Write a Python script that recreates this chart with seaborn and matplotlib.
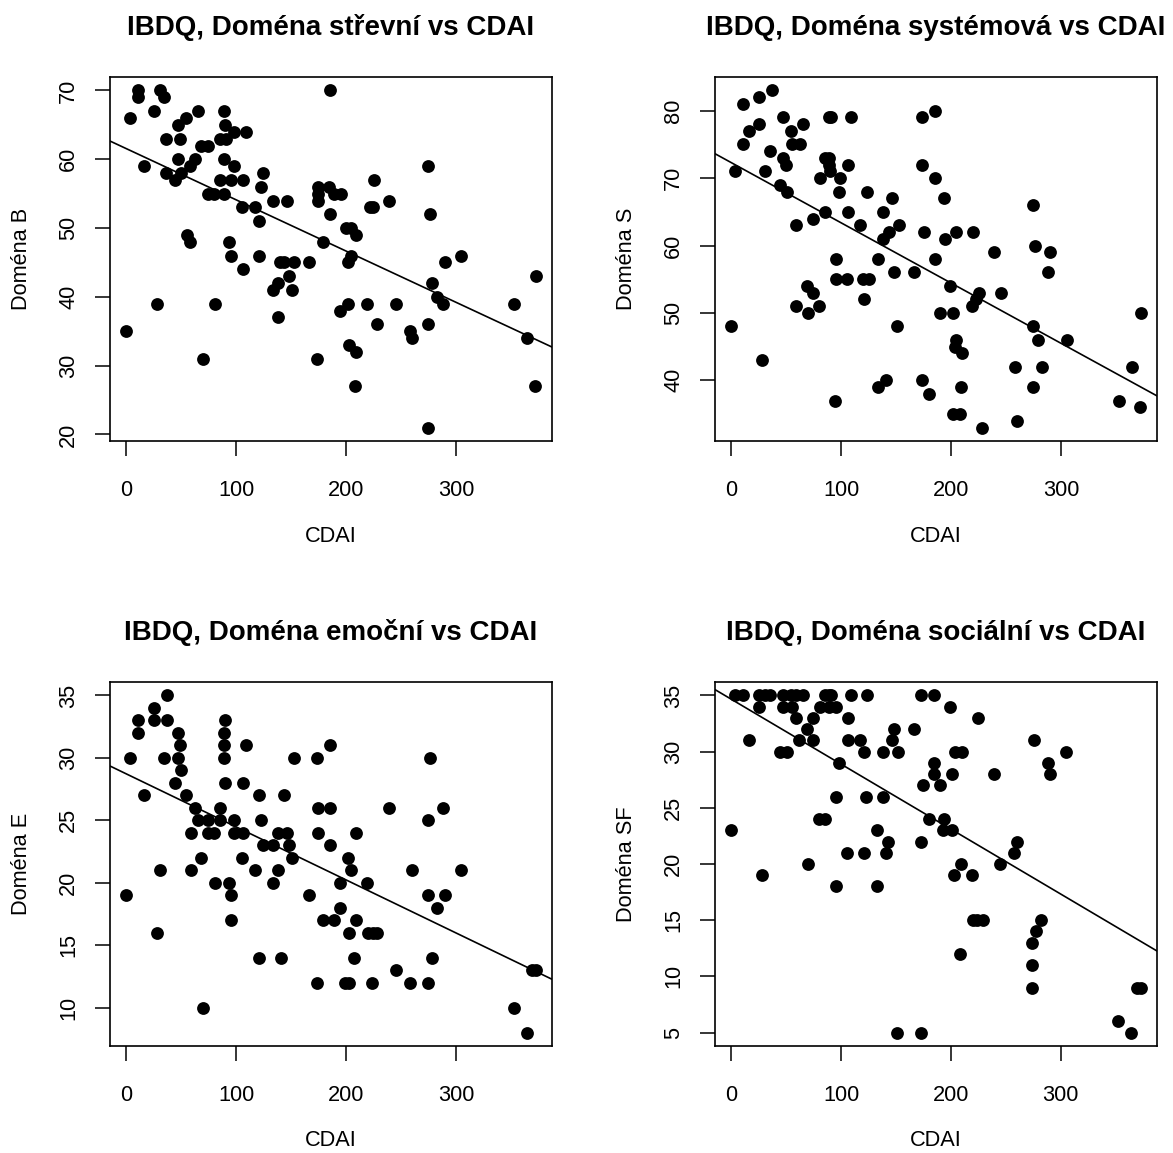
import matplotlib
matplotlib.use("Agg")
import matplotlib.pyplot as plt
import seaborn as sns
import numpy as np

# ---------------- data ----------------
titles = ["IBDQ, Doména střevní vs CDAI", "IBDQ, Doména systémová vs CDAI",
          "IBDQ, Doména emoční vs CDAI", "IBDQ, Doména sociální vs CDAI"]
ylabels = ["Doména B", "Doména S", "Doména E", "Doména SF"]
xlabel = "CDAI"
xticks = [0, 100, 200, 300]
yticks_b = [20, 30, 40, 50, 60, 70]
yticks_s = [40, 50, 60, 70, 80]
yticks_e = [10, 15, 20, 25, 30, 35]
yticks_sf = [5, 10, 15, 20, 25, 30, 35]

# Panel 1 - Doména B
cdai_b = [11, 11, 31, 34, 3, 25, 65, 89, 47, 54, 90, 98, 109, 36, 49, 68, 74, 85, 91,
          16, 47, 62, 58, 89, 98, 36, 44, 50, 85, 95, 106, 124, 122, 74, 80, 89, 105,
          117, 121, 133, 146, 174, 174, 174, 179, 55, 58, 93, 95, 106, 121, 140, 143,
          152, 166, 148, 138, 133, 151, 138, 28, 81, 0, 70, 173,
          185, 274, 225, 184, 189, 195, 221, 224, 239, 185, 276, 200, 204, 209, 204,
          201, 290, 304, 372, 278, 282, 288, 194, 201, 219, 245, 352, 228, 258, 260,
          274, 364, 202, 209, 208, 371, 274]
dom_b = [70, 69, 70, 69, 66, 67, 67, 67, 65, 66, 65, 64, 64, 63, 63, 62, 62, 63, 63,
         59, 60, 60, 59, 60, 59, 58, 57, 58, 57, 57, 57, 58, 56, 55, 55, 55, 53,
         53, 51, 54, 54, 56, 55, 54, 48, 49, 48, 48, 46, 44, 46, 45, 45,
         45, 45, 43, 42, 41, 41, 37, 39, 39, 35, 31, 31,
         70, 59, 57, 56, 55, 55, 53, 53, 54, 52, 52, 50, 50, 49, 46,
         45, 45, 46, 43, 42, 40, 39, 38, 39, 39, 39, 39, 36, 35, 34,
         36, 34, 33, 32, 27, 27, 21]

# Panel 2 - Doména S
cdai_s = [37, 11, 25, 47, 89, 91, 109, 173, 185, 16, 25, 54, 65, 11, 55, 62, 35, 47, 50,
          85, 89, 89, 90, 106, 173, 3, 31, 81, 99, 185, 44, 51, 98, 123, 146, 138, 85,
          74, 106, 117, 59, 143, 152, 138, 175, 95, 133, 148, 166, 95, 105, 120, 125,
          69, 74, 80, 59, 70, 121, 151, 0, 28, 133, 141, 173, 180, 94,
          193, 274, 194, 204, 220, 239, 276, 290, 288, 185, 199, 225, 222, 219, 245,
          190, 201, 372, 274, 279, 305, 204, 203, 210, 258, 282, 364, 209, 274, 352,
          371, 201, 208, 228, 260]
dom_s = [83, 81, 82, 79, 79, 79, 79, 79, 80, 77, 78, 77, 78, 75, 75, 75, 74, 73, 72,
         73, 73, 72, 71, 72, 72, 71, 71, 70, 70, 70, 69, 68, 68, 68, 67, 65, 65,
         64, 65, 63, 63, 62, 63, 61, 62, 58, 58, 56, 56, 55, 55, 55, 55,
         54, 53, 51, 51, 50, 52, 48, 48, 43, 39, 40, 40, 38, 37,
         67, 66, 61, 62, 62, 59, 60, 59, 56, 58, 54, 53, 52, 51, 53,
         50, 50, 50, 48, 46, 46, 46, 45, 44, 42, 42, 42, 39, 39, 37,
         36, 35, 35, 33, 34]

# Panel 3 - Doména E
cdai_e = [37, 25, 11, 25, 37, 11, 47, 49, 90, 89, 89, 109, 3, 34, 47, 89, 152, 173, 50,
          44, 90, 106, 16, 54, 121, 143, 62, 85, 174, 65, 74, 85, 98, 122, 59, 74, 80,
          98, 106, 138, 146, 174, 124, 133, 148, 68, 105, 151, 31, 59, 117, 138, 81,
          93, 133, 0, 95, 166, 95, 179, 28, 121, 141, 173, 70,
          185, 276, 185, 239, 288, 274, 209, 185, 201, 204, 194, 219, 260, 304, 274,
          290, 282, 194, 189, 209, 202, 220, 224, 228, 207, 278, 245, 369, 372, 199,
          202, 223, 258, 274, 352, 364]
dom_e = [35, 34, 33, 33, 33, 32, 32, 31, 33, 32, 31, 31, 30, 30, 30, 30, 30, 30, 29,
         28, 28, 28, 27, 27, 27, 27, 26, 26, 26, 25, 25, 25, 25, 25, 24, 24, 24,
         24, 24, 24, 24, 24, 23, 23, 23, 22, 22, 22, 21, 21, 21, 21, 20,
         20, 20, 19, 19, 19, 17, 17, 16, 14, 14, 12, 10,
         31, 30, 26, 26, 26, 25, 24, 23, 22, 21, 20, 20, 21, 21, 19,
         19, 18, 18, 17, 17, 16, 16, 16, 16, 14, 14, 13, 13, 13, 12,
         12, 12, 12, 12, 10, 8]

# Panel 4 - Doména SF
cdai_sf = [3, 11, 25, 31, 35, 47, 54, 59, 65, 85, 89, 91, 109, 124, 173, 185,
           25, 47, 55, 81, 89, 95, 199,
           59, 74, 106, 225,
           69, 148, 166,
           16, 62, 74, 106, 117, 146, 276,
           44, 51, 121, 138, 152, 204, 210, 305,
           98, 185, 289,
           185, 201, 239, 290,
           175, 190,
           95, 123, 138,
           80, 85, 180, 194,
           0, 133, 193, 201,
           143, 173, 260,
           105, 121, 141, 258,
           70, 209, 245,
           28, 203, 219,
           95, 133,
           220, 224, 229, 282,
           278, 274, 208, 274,
           274, 370, 373,
           352,
           151, 173, 364]
dom_sf = [35, 35, 35, 35, 35, 35, 35, 35, 35, 35, 35, 35, 35, 35, 35, 35,
          34, 34, 34, 34, 34, 34, 34,
          33, 33, 33, 33,
          32, 32, 32,
          31, 31, 31, 31, 31, 31, 31,
          30, 30, 30, 30, 30, 30, 30, 30,
          29, 29, 29,
          28, 28, 28, 28,
          27, 27,
          26, 26, 26,
          24, 24, 24, 24,
          23, 23, 23, 23,
          22, 22, 22,
          21, 21, 21, 21,
          20, 20, 20,
          19, 19, 19,
          18, 18,
          15, 15, 15, 15,
          14, 13, 12, 11,
          9, 9, 9,
          6,
          5, 5, 5]

panels = [(cdai_b, dom_b, yticks_b), (cdai_s, dom_s, yticks_s),
          (cdai_e, dom_e, yticks_e), (cdai_sf, dom_sf, yticks_sf)]

# ---------------- styling ----------------
sns.set_theme(style="ticks")
plt.rcParams['font.family'] = ['Liberation Sans', 'DejaVu Sans']
plt.rcParams['axes.linewidth'] = 1.2

W, H = 1173, 1153
fig = plt.figure(figsize=(W / 100, H / 100), dpi=100)
boxes = [(110, 77), (715, 77), (110, 682), (715, 682)]
bw, bh = 442, 364

def rlim(v):
    lo, hi = min(v), max(v)
    d = (hi - lo) * 0.04
    return lo - d, hi + d

for i, ((xs, ys, yt), (left, top)) in enumerate(zip(panels, boxes)):
    ax = fig.add_axes([left / W, 1 - (top + bh) / H, bw / W, bh / H])
    xl = rlim(xs)
    yl = rlim(ys)
    ax.set_xlim(xl)
    ax.set_ylim(yl)
    sns.regplot(x=np.array(xs, dtype=float), y=np.array(ys, dtype=float), ax=ax,
                ci=None, truncate=False, color="black", marker="o",
                scatter_kws=dict(s=85, linewidths=0, alpha=1, zorder=3),
                line_kws=dict(color="black", lw=1.2, zorder=2))
    ax.set_xlim(xl)
    ax.set_ylim(yl)
    ax.set_xticks(xticks)
    ax.set_yticks(yt)
    ax.set_xticklabels([str(t) for t in xticks])
    ax.set_yticklabels([str(t) for t in yt])
    for s in ax.spines.values():
        s.set_visible(True)
        s.set_color("black")
        s.set_linewidth(1.2)
    ax.tick_params(axis="both", direction="out", length=10.8, width=1.1,
                   color="black", labelsize=15.7, labelcolor="black")
    ax.tick_params(axis="x", pad=24.5)
    ax.tick_params(axis="y", pad=19)
    plt.setp(ax.get_xticklabels(), va="center")
    plt.setp(ax.get_yticklabels(), rotation=90, ha="center", va="center")
    ax.set_title(titles[i], fontsize=20, fontweight="bold", pad=30, color="black")
    ax.set_xlabel(xlabel, fontsize=15.7, color="black", va="center")
    ax.xaxis.set_label_coords(0.5, -95 / bh)
    ax.set_ylabel(ylabels[i], fontsize=15.7, color="black", va="center")
    ax.yaxis.set_label_coords(-88 / bw, 0.5)
    ax.grid(False)
    ax.set_facecolor("white")

fig.savefig("out.png", dpi=100, facecolor="white")
